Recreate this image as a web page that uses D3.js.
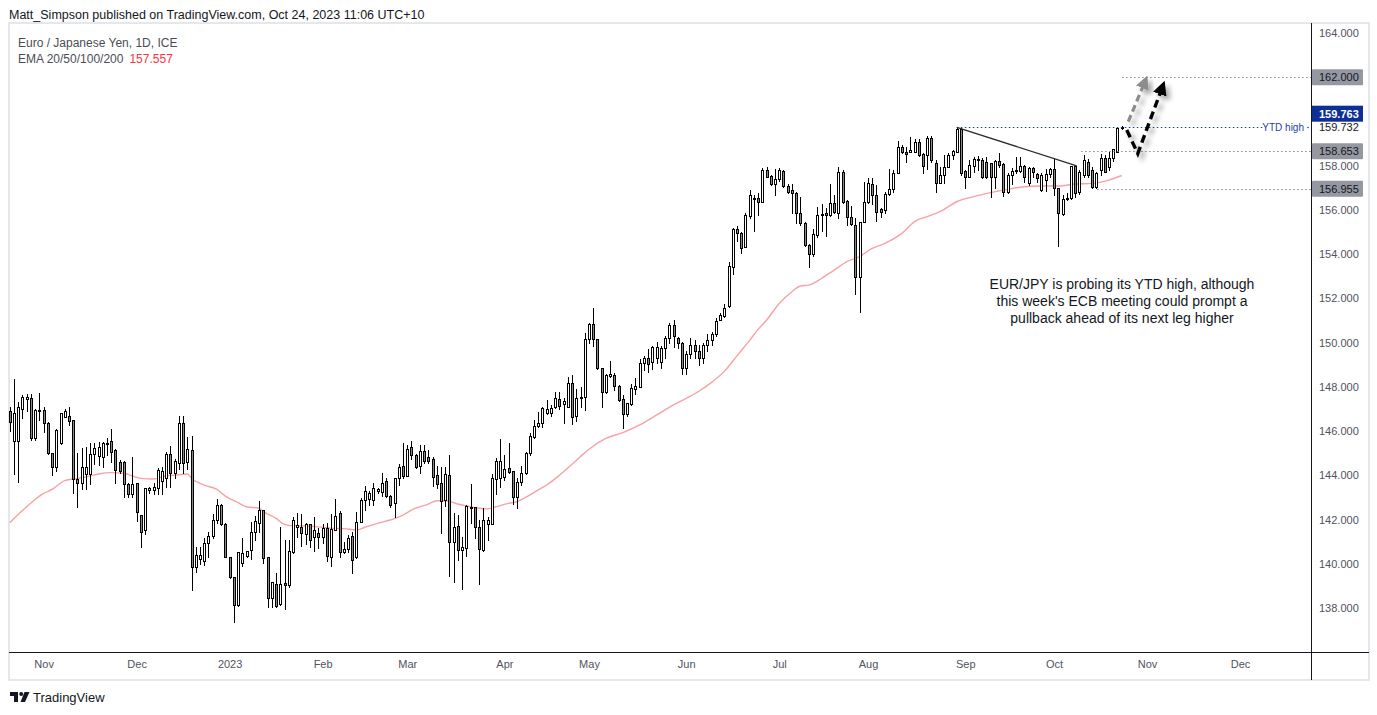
<!DOCTYPE html>
<html><head><meta charset="utf-8">
<script src="https://cdn.jsdelivr.net/npm/d3@7"></script>
<style>
body{margin:0;background:#fff;}
svg{display:block;font-family:"Liberation Sans",Arial,sans-serif;}
</style>
</head><body>
<svg id="c" width="1377" height="715"></svg>
<script>
// ---------- DATA (EUR/JPY daily, first bar 2022-10-20, weekdays) ----------
const startDate = "2022-10-20";
const opens = [
146.90,145.55,145.55,146.98,147.47,147.48,145.67,146.95,146.95,146.38,
145.02,144.39,145.44,146.65,146.68,146.50,143.83,143.66,144.04,144.04,
144.95,144.87,144.81,145.45,145.55,145.14,144.58,144.62,143.59,143.14,
143.63,142.20,141.52,143.35,143.33,143.41,143.74,143.86,144.95,144.09,
144.57,146.35,144.60,145.13,139.86,140.20,140.12,140.92,141.25,141.98,
142.65,141.80,140.29,139.38,138.14,140.05,140.35,140.62,141.45,141.83,
142.43,140.32,138.44,139.08,138.17,139.11,139.02,140.55,141.65,141.68,
141.33,141.78,141.23,141.38,141.23,141.60,140.32,141.53,142.28,140.52,
140.65,141.25,140.29,141.90,142.88,142.93,142.88,143.30,143.26,143.74,
143.06,142.73,143.86,144.42,143.98,145.27,144.92,144.42,145.10,144.81,
144.72,144.01,143.64,142.88,144.01,140.97,141.71,140.62,140.70,142.58,
142.55,141.68,140.62,141.80,141.80,143.83,143.86,143.94,144.32,144.20,
143.03,143.71,144.09,144.99,145.75,146.23,146.35,146.80,146.80,147.07,
147.44,147.21,147.07,148.16,146.70,147.50,147.53,150.15,150.83,150.15,
148.84,147.75,148.51,148.54,148.05,147.44,146.76,147.21,147.90,148.01,
149.06,149.29,149.14,149.30,149.14,149.74,150.19,150.80,150.22,149.97,
148.84,149.50,149.90,149.60,149.30,149.90,150.10,150.40,151.02,151.22,
151.66,153.43,155.12,154.94,154.31,155.74,156.55,156.52,156.37,157.80,
157.53,157.16,157.38,157.76,157.08,156.90,156.78,155.88,155.39,154.41,
153.99,154.87,155.80,155.85,155.77,156.30,155.85,157.73,156.40,155.70,
155.32,152.95,155.44,156.37,157.17,156.67,156.03,156.00,156.72,156.95,
157.65,158.83,158.62,158.63,158.63,159.09,158.51,158.48,159.24,158.11,
157.23,157.58,157.96,158.48,158.63,159.66,157.76,157.50,157.99,158.26,
158.26,158.18,158.11,157.47,158.21,158.08,156.83,157.58,157.81,157.76,
157.99,157.20,157.88,157.61,156.90,157.35,157.61,157.84,156.98,155.82,
156.48,156.52,157.99,156.80,157.58,158.18,157.81,157.05,157.81,158.36,
157.96,158.36,158.63,159.72];
const highs = [
147.10,148.34,147.33,147.63,147.68,147.68,147.00,147.73,147.10,146.43,
145.02,146.08,146.83,146.98,147.10,146.50,144.99,145.22,145.30,145.47,
145.47,145.52,145.52,145.67,146.08,145.17,144.69,144.66,143.63,144.81,
143.66,142.20,143.41,143.45,143.66,144.32,144.39,145.07,145.32,144.72,
146.68,146.68,145.74,145.76,140.77,140.77,141.15,141.45,142.25,142.91,
142.70,141.85,140.32,139.41,140.55,141.15,140.60,141.90,142.16,142.84,
142.43,140.32,139.16,139.57,141.68,141.07,141.07,142.13,142.28,142.23,
141.86,141.78,142.13,141.63,141.78,141.86,142.23,142.93,142.39,141.00,
141.30,141.45,142.33,142.96,143.52,143.30,143.64,143.41,144.12,143.86,
143.10,143.90,144.50,145.45,145.37,145.55,144.96,145.37,145.37,145.15,
144.84,144.42,144.39,144.39,144.92,142.28,142.21,141.23,142.66,143.61,
142.58,141.98,142.51,142.13,144.06,144.77,145.63,144.92,145.45,144.21,
143.86,144.42,145.07,145.93,146.50,146.88,147.10,147.41,147.18,147.78,
147.78,147.48,148.43,148.54,147.89,147.98,150.45,150.90,151.55,150.15,
148.84,148.57,149.18,148.64,148.08,147.63,147.26,148.13,148.39,149.26,
149.39,149.70,149.85,150.04,149.85,150.30,150.87,151.02,150.27,150.04,
149.60,150.20,150.10,149.90,150.00,150.40,150.50,151.10,151.32,151.75,
153.66,155.17,155.27,155.02,155.88,156.90,156.67,156.75,157.88,157.96,
157.58,157.83,157.91,157.80,157.17,157.16,156.82,156.60,155.47,154.44,
155.12,156.12,156.25,156.07,157.16,156.67,157.96,157.81,156.45,156.18,
155.62,155.47,157.28,157.43,157.43,157.13,156.07,156.83,157.84,157.81,
159.13,158.94,158.83,159.31,159.19,159.19,158.56,159.34,159.36,158.26,
157.96,158.48,158.56,158.70,159.732,159.70,157.81,158.26,158.41,158.44,
158.33,158.41,158.11,158.26,158.59,158.11,157.66,157.88,158.41,158.38,
158.03,157.96,157.96,157.66,157.66,157.84,157.88,158.29,156.98,156.68,
156.75,158.00,158.00,157.80,158.50,158.30,157.96,157.70,158.53,158.50,
158.60,158.75,159.72,159.80];
const lows = [
146.00,144.08,143.71,146.60,146.92,145.60,145.60,146.50,145.97,144.95,
144.00,144.20,145.40,146.62,146.27,143.18,142.55,143.36,143.36,143.59,
144.50,144.47,144.39,144.90,144.62,143.63,144.10,143.03,143.00,143.00,
141.93,140.77,141.34,143.20,143.15,143.14,143.15,143.48,143.48,143.90,
144.27,144.10,144.27,138.80,139.64,140.00,139.94,140.30,141.15,141.83,
141.75,140.30,139.34,137.37,138.10,139.90,140.30,140.20,141.07,141.45,
140.02,138.03,138.03,138.06,138.14,137.94,138.96,140.47,141.23,140.80,
140.89,140.77,140.58,140.73,140.92,140.12,139.91,141.53,140.29,140.47,
140.55,139.57,140.25,141.90,142.43,142.66,142.66,143.20,143.06,143.03,
142.55,142.13,143.56,143.86,143.98,144.74,144.32,144.12,144.54,144.54,
143.52,143.41,141.38,142.61,139.46,139.16,140.17,138.85,140.37,141.83,
141.15,139.09,140.58,141.08,141.80,143.16,143.49,143.79,144.09,142.69,
142.54,143.56,144.06,144.92,145.67,146.20,146.20,146.77,146.68,147.03,
147.00,146.38,147.07,146.30,146.46,147.10,146.95,149.97,149.85,148.81,
147.10,147.71,148.46,147.86,147.38,146.12,146.68,147.18,147.68,148.01,
148.76,148.69,148.81,149.09,148.84,149.29,149.97,149.79,149.74,148.58,
148.60,149.30,149.30,149.00,149.10,149.60,149.90,150.30,151.02,151.17,
151.63,153.10,154.61,154.04,154.31,155.62,155.06,155.77,156.37,157.50,
157.13,156.67,157.32,157.02,156.78,155.85,155.39,155.32,154.38,153.43,
153.93,154.79,155.05,154.84,155.74,155.85,155.62,156.30,155.32,155.32,
152.20,151.40,155.44,156.30,156.27,155.52,155.70,155.85,156.67,156.83,
157.65,158.59,158.18,158.60,158.60,158.44,157.65,157.84,158.18,156.83,
157.20,157.23,157.96,158.30,158.63,157.58,157.01,157.47,157.73,157.81,
157.43,157.43,156.60,156.98,157.96,156.63,156.78,157.17,157.66,157.73,
157.28,157.13,157.47,157.28,156.87,156.87,157.50,156.68,154.37,155.77,
156.45,156.48,156.60,156.70,157.50,157.50,157.00,157.00,157.60,157.70,
157.80,158.20,158.60,159.66];
const closes = [
146.40,146.84,147.07,147.52,147.52,145.70,146.95,146.97,146.35,144.99,
144.39,146.05,146.80,146.90,146.45,143.82,143.64,144.39,144.39,144.95,
145.25,145.30,145.44,145.47,145.07,144.24,144.20,143.59,143.14,143.59,
142.35,141.45,143.41,143.41,143.45,144.24,144.20,144.96,144.09,144.65,
146.35,144.57,145.17,139.86,140.39,140.39,140.92,141.25,141.98,142.65,
141.80,140.32,139.38,138.14,140.55,140.50,140.57,141.45,141.93,142.43,
140.25,138.44,139.16,138.09,139.07,139.02,140.60,141.98,141.75,141.38,
141.78,141.07,141.53,141.23,141.60,140.37,141.56,142.17,140.52,140.65,
141.15,140.17,141.90,142.88,143.30,143.21,143.41,143.37,143.67,143.06,
142.66,143.86,144.36,143.98,145.19,144.92,144.36,145.10,144.65,144.65,
143.94,143.61,142.84,144.04,140.97,141.65,140.62,140.77,142.61,142.58,
141.65,140.67,141.98,141.98,143.86,144.65,144.65,144.27,144.14,143.03,
143.71,144.09,144.99,145.78,146.23,146.38,147.03,146.98,147.03,147.48,
147.13,147.36,148.16,146.62,147.48,147.53,150.15,150.83,150.15,148.84,
147.75,148.52,148.57,148.05,147.41,146.76,147.26,147.93,148.05,149.06,
149.29,149.03,149.79,149.79,149.74,150.19,150.80,150.30,149.97,148.84,
149.50,149.90,149.60,149.30,149.90,150.10,150.40,151.00,151.25,151.55,
153.46,155.12,154.94,154.26,155.77,156.67,156.51,156.37,157.80,157.50,
157.16,157.38,157.80,157.08,156.82,156.75,155.85,155.39,154.41,153.99,
154.91,155.77,155.82,155.78,156.30,155.92,157.73,156.37,155.70,155.35,
152.95,155.44,156.34,157.20,156.67,155.92,155.92,156.72,156.93,157.65,
158.83,158.60,158.54,158.71,159.09,158.48,158.00,159.24,158.26,157.23,
157.58,157.96,158.48,158.68,159.66,157.69,157.50,158.03,158.29,158.29,
157.47,157.47,157.47,158.21,158.03,156.83,157.58,157.76,157.81,157.99,
157.47,157.88,157.73,157.43,157.58,157.61,157.84,156.98,155.85,156.48,
156.55,157.99,156.78,157.70,158.26,157.58,157.05,157.66,158.36,157.73,
158.36,158.74,159.69,159.763];
// EMA line samples: [bar number, value]
const emaPoints = [
[0,141.86],[4,142.58],[8,143.18],[10,143.36],[13,143.76],[16,143.86],[19,143.97],[21,144.06],[24,144.12],[27,144.09],
[29,143.97],[31,143.86],[34,143.83],[37,143.97],[39,144.01],[42,144.06],[43,143.86],[46,143.56],[49,143.36],[51,143.06],
[54,142.76],[56,142.58],[59,142.51],[60,142.36],[63,142.05],[65,141.78],[67,141.72],[70,141.71],[74,141.65],[77,141.60],
[79,141.59],[82,141.53],[84,141.65],[87,141.83],[90,141.98],[93,142.20],[95,142.43],[99,142.70],[101,142.85],[103,142.85],
[106,142.70],[108,142.61],[110,142.54],[113,142.48],[115,142.58],[118,142.73],[120,142.81],[122,143.00],[125,143.34],[127,143.56],
[130,144.00],[133,144.50],[135,144.85],[137,145.18],[141,145.67],[145,145.93],[149,146.28],[153,146.73],[157,147.18],[160,147.48],
[163,147.80],[166,148.20],[169,148.70],[172,149.40],[175,150.10],[177,150.60],[179,151.02],[182,151.77],[185,152.30],[187,152.56],
[189,152.60],[192,152.90],[195,153.28],[198,153.66],[201,153.89],[204,154.26],[207,154.49],[211,154.94],[214,155.47],[217,155.70],
[220,155.92],[224,156.37],[228,156.60],[232,156.78],[236,156.93],[240,157.05],[244,157.08],[248,157.08],[252,157.17],[256,157.20],
[260,157.35],[263,157.557]];
const yTickValues = [138,140,142,144,146,148,150,152,154,156,158,164];
// horizontal levels: [value, first bar, style]
const levels = [[162.000,263.1,"grey"],[159.732,224,"blue"],[158.653,253.4,"grey"],[156.955,257.2,"grey"]];
const trendLine = [[224,159.732],[252.35,157.99]];
const greyArrow = [[264.55,159.99],[268.6,161.85]];
const blackArrow = [[264.2,159.61],[266.8,158.55],[272.7,161.6]];
const noteLines = ["EUR/JPY is probing its YTD high, although","this week's ECB meeting could prompt a","pullback ahead of its next leg higher"];
const lastPrice = 159.763;
const emaLast = "157.557";

// ---------- LAYOUT ----------
const svg = d3.select("#c");
const plotL=9, plotR=1311, plotT=23, plotB=652, outerR=1369, outerB=680;
const x = d3.scaleLinear().domain([1,263]).range([14,1121.7]);
const y = d3.scaleLinear().domain([138,164]).range([608,33]);

// dates: weekdays
const dates=[]; {let d=new Date(startDate+"T00:00:00Z"); while(dates.length<330){const w=d.getUTCDay(); if(w>0&&w<6) dates.push(new Date(d)); d.setUTCDate(d.getUTCDate()+1);} }

const defs = svg.append("defs");
defs.append("clipPath").attr("id","plotclip").append("rect").attr("x",plotL).attr("y",plotT).attr("width",plotR-plotL).attr("height",plotB-plotT);
const f = defs.append("filter").attr("id","shadow").attr("x","-50%").attr("y","-50%").attr("width","200%").attr("height","200%");
f.append("feDropShadow").attr("dx",4).attr("dy",4).attr("stdDeviation",2.5).attr("flood-color","#000").attr("flood-opacity",0.35);
["#000","#8c8c8c"].forEach((c,i)=>{
  defs.append("marker").attr("id","ah"+i).attr("viewBox","0 0 10 10").attr("refX",6).attr("refY",5)
   .attr("markerWidth",4.2).attr("markerHeight",4.2).attr("orient","auto").attr("markerUnits","strokeWidth")
   .append("path").attr("d","M0,0L10,5L0,10z").attr("fill",c);
});

// header
svg.append("text").attr("x",9).attr("y",19).attr("font-size",12.5).attr("fill","#131722")
  .text("Matt_Simpson published on TradingView.com, Oct 24, 2023 11:06 UTC+10");

// outer frame
svg.append("rect").attr("x",plotL).attr("y",plotT).attr("width",outerR-plotL).attr("height",outerB-plotT)
  .attr("fill","none").attr("stroke","#e6e7ec").attr("stroke-width",2);

// legend
svg.append("text").attr("x",18).attr("y",47).attr("font-size",12).attr("fill","#4a4d56").text("Euro / Japanese Yen, 1D, ICE");
const lg = svg.append("text").attr("x",18).attr("y",63).attr("font-size",12).attr("fill","#4a4d56");
lg.append("tspan").text("EMA 20/50/100/200");
lg.append("tspan").attr("dx",6).attr("fill","#f23645").text(emaLast);

const plot = svg.append("g").attr("clip-path","url(#plotclip)");

// EMA
plot.append("path").datum(emaPoints).attr("fill","none").attr("stroke","#f7a1a7").attr("stroke-width",1.4)
  .attr("d",d3.line().x(d=>x(d[0])).y(d=>y(d[1])).curve(d3.curveMonotoneX));

// candles
const data = opens.map((o,k)=>({k,o,h:highs[k],l:lows[k],c:closes[k]}));
const cg = plot.append("g").attr("shape-rendering","crispEdges");
const cand = cg.selectAll("g").data(data).join("g");
cand.append("line")
  .attr("x1",d=>Math.round(x(d.k))+0.5).attr("x2",d=>Math.round(x(d.k))+0.5)
  .attr("y1",d=>Math.round(y(d.h))).attr("y2",d=>Math.round(y(d.l))+1)
  .attr("stroke","#000").attr("stroke-width",1);
cand.append("rect")
  .attr("x",d=>Math.round(x(d.k))-0.5).attr("width",2)
  .attr("y",d=>Math.round(y(Math.max(d.o,d.c)))+0.5)
  .attr("height",d=>Math.max(1,Math.round(y(Math.min(d.o,d.c)))-Math.round(y(Math.max(d.o,d.c)))))
  .attr("fill",d=>d.c>=d.o?"#ffffff":"#8a8a8a").attr("stroke","#000").attr("stroke-width",1);

// level lines
levels.forEach(([v,k0,st])=>{
  const yy = Math.round(y(v))+0.5;
  plot.append("line").attr("x1",x(k0)).attr("x2",st==="blue"?plotR-48:plotR).attr("y1",yy).attr("y2",yy)
    .attr("stroke",st==="blue"?"#1f3fa3":"#8a8a8a").attr("stroke-width",1).attr("stroke-dasharray","1.5,2.5");
});
// trend line
plot.append("path").datum(trendLine).attr("fill","none").attr("stroke","#2b2b2b").attr("stroke-width",1.3)
  .attr("d",d3.line().x(d=>x(d[0])).y(d=>y(d[1])));
// arrows
const arrowLine = d3.line().x(d=>x(d[0])).y(d=>y(d[1]));
svg.append("path").datum(greyArrow).attr("fill","none").attr("stroke","#8c8c8c").attr("stroke-width",3.2)
  .attr("stroke-dasharray","7,4").attr("marker-end","url(#ah1)").attr("filter","url(#shadow)").attr("d",arrowLine);
svg.append("path").datum(blackArrow).attr("fill","none").attr("stroke","#000").attr("stroke-width",3.4)
  .attr("stroke-dasharray","8,4.5").attr("stroke-linejoin","miter").attr("marker-end","url(#ah0)").attr("filter","url(#shadow)").attr("d",arrowLine);

// note
const nt = svg.append("text").attr("text-anchor","middle").attr("font-size",14).attr("fill","#131722");
noteLines.forEach((t,i)=> nt.append("tspan").attr("x",1122).attr("y",289+i*17).text(t));

// axes lines
svg.append("line").attr("x1",plotR+0.5).attr("x2",plotR+0.5).attr("y1",plotT).attr("y2",outerB).attr("stroke","#131722").attr("stroke-width",1);
svg.append("line").attr("x1",plotL).attr("x2",outerR).attr("y1",plotB+0.5).attr("y2",plotB+0.5).attr("stroke","#131722").attr("stroke-width",1);

// y axis
const yAxis = svg.append("g").attr("transform",`translate(${plotR},0)`)
  .call(d3.axisRight(y).tickValues(yTickValues).tickSize(0).tickPadding(8).tickFormat(d3.format(".3f")));
yAxis.select(".domain").remove();
yAxis.selectAll("text").attr("font-size",11).attr("fill","#50535e").attr("font-family","Liberation Sans, Arial, sans-serif");

// level price boxes
levels.forEach(([v,k0,st])=>{
  const yy=y(v);
  if(st==="grey"){
    svg.append("rect").attr("x",plotR+1).attr("y",yy-8).attr("width",51).attr("height",16).attr("fill","#9598a1").attr("rx",1);
    svg.append("text").attr("x",plotR+8).attr("y",yy+4).attr("font-size",11).attr("fill","#131722").text(d3.format(".3f")(v));
  } else {
    svg.append("text").attr("x",plotR+8).attr("y",yy+4).attr("font-size",11).attr("fill","#131722").text(d3.format(".3f")(v));
    svg.append("text").attr("x",plotR-7).attr("y",yy+3.5).attr("text-anchor","end").attr("font-size",10).attr("fill","#1f3fa3").text("YTD high");
    svg.append("circle").attr("cx",plotR-3).attr("cy",Math.round(yy)+0.5).attr("r",0.8).attr("fill","#1f3fa3");
  }
});
// last price box
{ const yy=y(lastPrice)-13;
  svg.append("rect").attr("x",plotR+1).attr("y",yy-8).attr("width",51).attr("height",16).attr("fill","#0d2f96");
  svg.append("text").attr("x",plotR+8).attr("y",yy+4).attr("font-size",11).attr("font-weight","bold").attr("fill","#fff").text(d3.format(".3f")(lastPrice));
}

// x axis (first weekday of each month)
const monthTicks = [];
for(let k=1;k<dates.length;k++){
  if(dates[k].getUTCMonth()!==dates[k-1].getUTCMonth()){ const px=x(k); if(px>plotL+15 && px<plotR-20) monthTicks.push(k); }
}
const xAxis = svg.append("g").attr("transform",`translate(0,${plotB})`)
  .call(d3.axisBottom(x).tickValues(monthTicks).tickSize(0).tickPadding(8)
    .tickFormat(k=>dates[k].getUTCMonth()===0?d3.utcFormat("%Y")(dates[k]):d3.utcFormat("%b")(dates[k])));
xAxis.select(".domain").remove();
xAxis.selectAll("text").attr("font-size",11).attr("fill","#50535e").attr("font-family","Liberation Sans, Arial, sans-serif");

// TradingView logo
const logo = svg.append("g").attr("fill","#131722");
logo.append("path").attr("d","M10,692h8v10h-4v-6h-4z");
logo.append("circle").attr("cx",21.2).attr("cy",694).attr("r",2);
logo.append("path").attr("d","M24.5,692h5l-4.5,10h-4.5z");
svg.append("text").attr("x",33).attr("y",702).attr("font-size",13).attr("fill","#131722").text("TradingView");
</script>
</body></html>
